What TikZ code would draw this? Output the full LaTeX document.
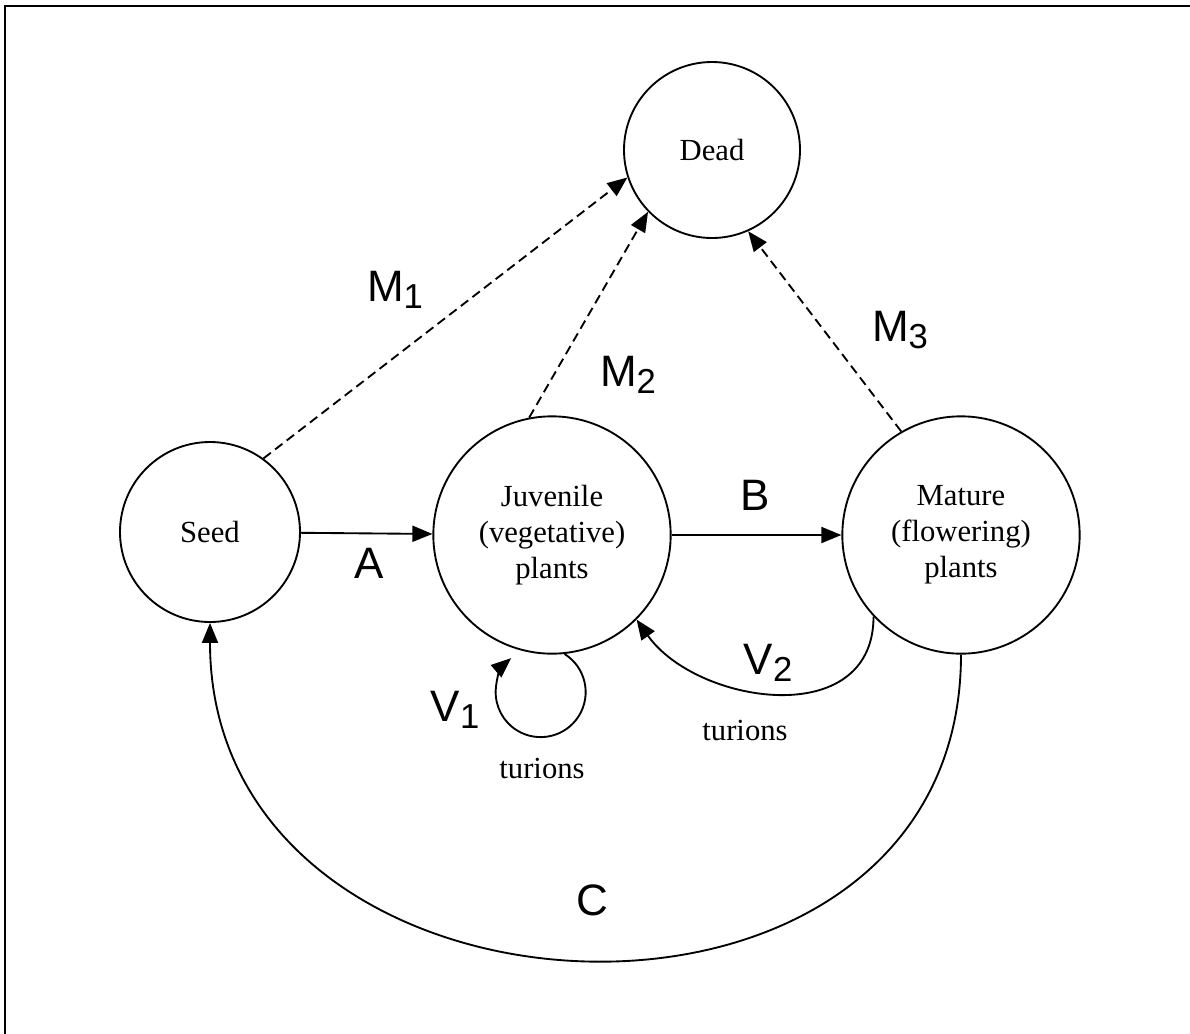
\documentclass[tikz,border=0pt]{standalone}
\usepackage{fontspec}
\setmainfont{Liberation Serif}
\setsansfont{Liberation Sans}
\usetikzlibrary{arrows.meta,%
                positioning}

\tikzset{
  stage/.style={circle, draw, line width=1.4pt, inner sep=0pt, align=center,
                font=\fontsize{23}{27}\selectfont},
  flow/.style={-{Triangle[length=15pt,width=12pt]}, line width=1.4pt},
  death/.style={flow, dash pattern=on 7pt off 4pt},
  rate/.style={font=\sffamily\fontsize{33}{33}\selectfont},
  note/.style={font=\fontsize{23}{27}\selectfont}
}
\newcommand{\idx}[1]{\raisebox{-5pt}{\fontsize{26}{26}\selectfont #1}}

\begin{document}
\begin{tikzpicture}[x=0.75pt,y=0.75pt]
\useasboundingbox (0,0) rectangle (1190,-1033);
\draw[line width=2.2pt] (5,-1100) -- (5,-6) -- (1300,-6);
\node[stage, minimum size=132pt] (dead) at (712,-150) {Dead};
\node[stage, minimum size=135pt] (seed) at (210,-532) {Seed};
\node[stage, minimum size=178pt] (juv) at (552,-535) {Juvenile\\(vegetative)\\plants};
\node[stage, minimum size=178pt] (mat) at (961,-535) {Mature\\(flowering)\\plants};
\draw[flow] (seed) -- (juv);
\draw[flow] (juv) -- (mat);
\draw[death] (seed.54) -- (dead.-162);
\draw[death] (juv.101) -- (dead.-136);
\draw[death] (mat.120) -- (dead.-66);
\draw[flow] (juv.-84) arc[start angle=58, end angle=-229, radius=45];
\draw[flow] (mat.-137) .. controls +(0,-115) and +(60,-85) .. (juv.-45);
\draw[flow] (mat.-90) .. controls +(0,-427) and +(0,-427) .. (seed.-90);
\node[rate] (lA) at (369,-563) {A};
\node[rate] (lB) at (755,-495) {B};
\node[rate] (lC) at (592,-900) {C};
\node[rate] (lM1) at (395,-290) {M\idx{1}};
\node[rate] (lM2) at (628,-375) {M\idx{2}};
\node[rate] (lM3) at (900,-330) {M\idx{3}};
\node[rate] (lV1) at (455,-710) {V\idx{1}};
\node[rate] (lV2) at (768,-663) {V\idx{2}};
\node[note] (t1) at (542,-768) {turions};
\node[note] (t2) at (745,-730) {turions};
\end{tikzpicture}
\end{document}
